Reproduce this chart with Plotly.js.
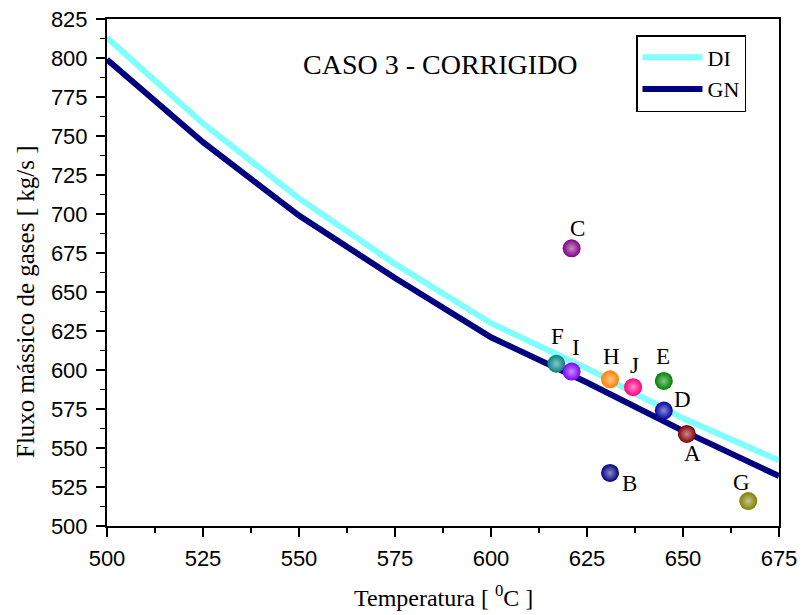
<!DOCTYPE html>
<html>
<head>
<meta charset="utf-8">
<script src="https://cdn.plot.ly/plotly-3.0.1.min.js"></script>
<style>html,body{margin:0;padding:0;background:#fff;}#chart{width:801px;height:615px;}</style>
</head>
<body>
<div id="chart"></div>
<script>
// Curve data
var temps = [500, 525, 550, 575, 600, 625, 650, 675];
var diFlow = [813, 758, 710, 668, 630, 601, 569, 542];
var gnFlow = [799, 746, 699, 659, 621, 592, 561, 532];

// Case points
var pointLabels = ['A', 'B', 'C', 'D', 'E', 'F', 'G', 'H', 'I', 'J'];
var pointTemps  = [651, 631, 621, 645, 645, 617, 667, 631, 621, 637];
var pointFlows  = [559, 534, 678, 574, 593, 604, 516, 594, 599, 589];
var pointColors = ['#800000', '#000080', '#800080', '#0000a0', '#008000', '#008080', '#808000', '#ff8000', '#8000ff', '#ff0080'];

// Label offsets in pixels (style, not data)
var labelDx = [6, 19, 6, 19, -1, 1, -7, 1, 4, 1];
var labelDy = [20, 11, -20, -11, -24, -27, -19, -23, -24, -22];

function tint(hex, f) {
  var r = parseInt(hex.substr(1,2),16), g = parseInt(hex.substr(3,2),16), b = parseInt(hex.substr(5,2),16);
  r = Math.round(r + (255 - r) * f); g = Math.round(g + (255 - g) * f); b = Math.round(b + (255 - b) * f);
  return 'rgb(' + r + ',' + g + ',' + b + ')';
}
var highlight = pointColors.map(function(c){ return tint(c, 0.55); });

var serif = 'Liberation Serif, Times New Roman, serif';
var traces = [
  {x: temps, y: diFlow, type: 'scatter', mode: 'lines', name: 'DI',
   line: {color: '#80ffff', width: 6}},
  {x: temps, y: gnFlow, type: 'scatter', mode: 'lines', name: 'GN',
   line: {color: '#000080', width: 6}},
  {x: pointTemps, y: pointFlows, type: 'scatter', mode: 'markers', showlegend: false,
   marker: {size: 18, color: pointColors, line: {width: 0},
            gradient: {type: 'radial', color: highlight}}}
];

var annotations = [
  {xref: 'paper', yref: 'paper', x: (440 - 107) / 672, y: 1 - (64 - 19) / 507, xanchor: 'center', yanchor: 'middle',
   text: 'CASO 3 - CORRIGIDO', showarrow: false,
   font: {family: serif, size: 28, color: '#000'}},
  {xref: 'paper', yref: 'paper', x: 0.5, y: 1 - (596 - 19) / 507, xanchor: 'center', yanchor: 'middle',
   text: 'Temperatura [ <sup>0</sup>C ]', showarrow: false,
   font: {family: serif, size: 24, color: '#000'}},
  {xref: 'paper', yref: 'paper', x: (25 - 107) / 672, y: 1 - (302 - 19) / 507, xanchor: 'center', yanchor: 'middle',
   text: 'Fluxo mássico de gases [ kg/s ]', showarrow: false, textangle: -90,
   font: {family: serif, size: 25, color: '#000'}}
];
pointLabels.forEach(function(lbl, i) {
  annotations.push({x: pointTemps[i], y: pointFlows[i], xref: 'x', yref: 'y',
    text: lbl, showarrow: false, xanchor: 'center', yanchor: 'middle',
    xshift: labelDx[i], yshift: -labelDy[i],
    font: {family: serif, size: 23, color: '#000'}});
});

var axisFont = {family: 'Liberation Sans, Arial, sans-serif', size: 22, color: '#000'};
var layout = {
  width: 801, height: 615,
  margin: {l: 107, r: 22, t: 19, b: 89},
  paper_bgcolor: '#fff', plot_bgcolor: '#fff',
  showlegend: true,
  legend: {x: (636 - 107) / 672, y: 1 - (35 - 19) / 507, xanchor: 'left', yanchor: 'top',
           bordercolor: '#000', borderwidth: 1.5, bgcolor: '#fff',
           font: {family: serif, size: 22, color: '#000'},
           itemwidth: 60, tracegroupgap: 0},
  xaxis: {range: [500, 675], tick0: 500, dtick: 25, ticks: 'outside', ticklen: 9, tickwidth: 1.5,
          tickcolor: '#000', showline: true, linecolor: '#000', linewidth: 2, mirror: true,
          showgrid: false, zeroline: false, tickfont: axisFont, ticklabelstandoff: 3,
          minor: {dtick: 12.5, ticks: 'outside', ticklen: 5, tickcolor: '#000', tickwidth: 1.5, showgrid: false}},
  yaxis: {range: [500, 825], tick0: 500, dtick: 25, ticks: 'outside', ticklen: 9, tickwidth: 1.5,
          tickcolor: '#000', showline: true, linecolor: '#000', linewidth: 2, mirror: true,
          showgrid: false, zeroline: false, tickfont: axisFont, ticklabelstandoff: 4,
          minor: {dtick: 12.5, ticks: 'outside', ticklen: 5, tickcolor: '#000', tickwidth: 1.5, showgrid: false}},
  annotations: annotations
};

Plotly.newPlot('chart', traces, layout, {displayModeBar: false, staticPlot: true});
</script>
</body>
</html>
